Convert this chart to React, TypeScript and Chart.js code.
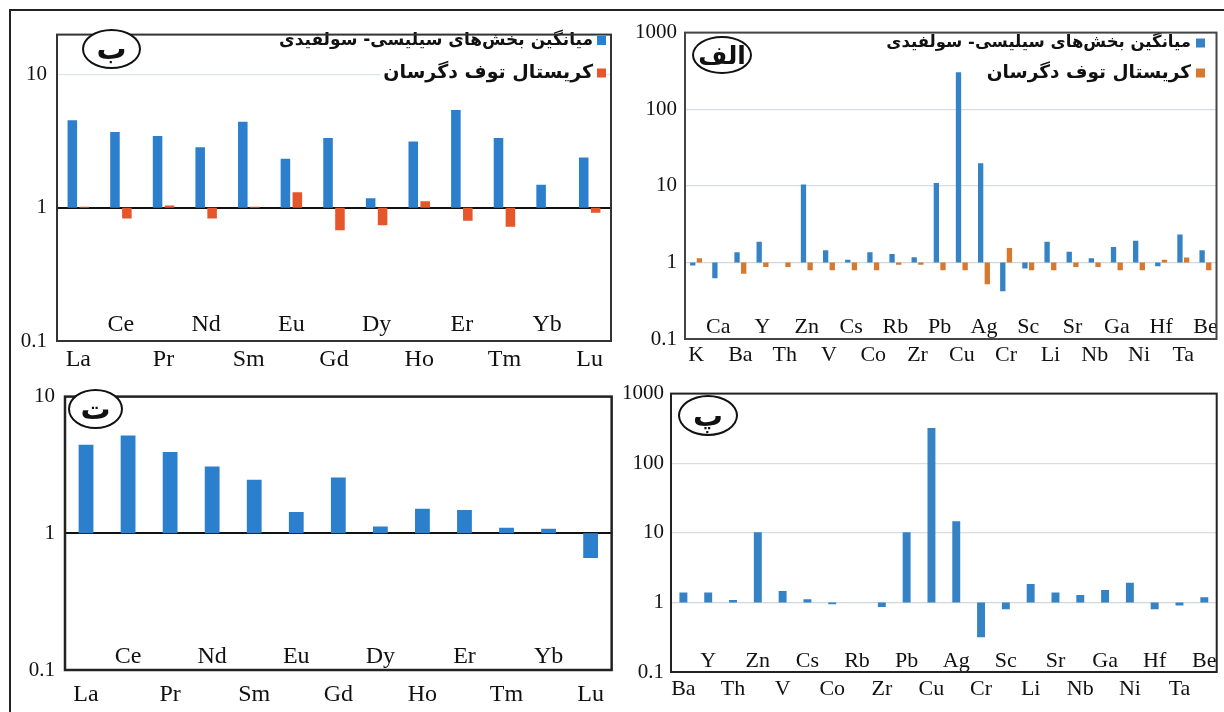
import React, { useEffect, useRef } from 'react';
import { Chart, registerables } from 'chart.js';

Chart.register(...registerables);

const SERIF = "'Liberation Serif', 'Times New Roman', serif";
const PERSIAN = "'DejaVu Sans', 'Noto Sans', sans-serif";

// ---------- data ----------
const seriesNames = ['میانگین بخش\u200cهای سیلیسی- سولفیدی', 'کریستال توف دگرسان'];
const panelTitles = ['الف', 'ب', 'پ', 'ت'];

// Panel ب (REE, two series)
const reeLabels = ['La', 'Ce', 'Pr', 'Nd', 'Sm', 'Eu', 'Gd', 'Dy', 'Ho', 'Er', 'Tm', 'Yb', 'Lu'];
const reeSilicaSulfide = [4.54, 3.71, 3.47, 2.85, 4.44, 2.34, 3.34, 1.18, 3.15, 5.43, 3.34, 1.49, 2.39];
const reeAlteredTuff = [1.02, 0.83, 1.04, 0.83, 1.02, 1.31, 0.68, 0.74, 1.12, 0.8, 0.72, 1.0, 0.92];

// Panel ت (REE ratio)
const reeRatio = [4.44, 5.2, 3.94, 3.08, 2.46, 1.43, 2.56, 1.12, 1.51, 1.48, 1.1, 1.08, 0.66];

// Panel الف (trace elements, two series)
const traceLabelsA = ['K', 'Ca', 'Ba', 'Y', 'Th', 'Zn', 'V', 'Cs', 'Co', 'Rb', 'Zr', 'Pb', 'Cu', 'Ag', 'Cr', 'Sc', 'Li', 'Sr', 'Nb', 'Ga', 'Ni', 'Hf', 'Ta', 'Be'];
const traceSilicaSulfide = [0.91, 0.62, 1.36, 1.86, 1.0, 10.4, 1.44, 1.08, 1.36, 1.29, 1.17, 10.9, 304, 19.7, 0.42, 0.83, 1.86, 1.38, 1.13, 1.59, 1.91, 0.89, 2.31, 1.44];
const traceAlteredTuff = [1.13, 1.0, 0.71, 0.87, 0.87, 0.79, 0.79, 0.79, 0.79, 0.93, 0.93, 0.79, 0.79, 0.52, 1.54, 0.79, 0.79, 0.87, 0.87, 0.79, 0.79, 1.08, 1.16, 0.79];

// Panel پ (trace element ratio)
const traceLabelsP = ['Ba', 'Y', 'Th', 'Zn', 'V', 'Cs', 'Co', 'Rb', 'Zr', 'Pb', 'Cu', 'Ag', 'Cr', 'Sc', 'Li', 'Sr', 'Nb', 'Ga', 'Ni', 'Hf', 'Ta', 'Be'];
const traceRatio = [1.39, 1.39, 1.08, 10.2, 1.46, 1.11, 0.94, 1.0, 0.86, 10.2, 320, 14.6, 0.316, 0.8, 1.84, 1.39, 1.28, 1.51, 1.92, 0.8, 0.9, 1.19];

const yTicksSmall = [0.1, 1, 10];
const yTicksLarge = [0.1, 1, 10, 100, 1000];

// ---------- component ----------
type DS = { label: string; data: number[]; color: string };
type PanelProps = {
  box: { left: number; top: number; width: number; height: number };
  area: { left: number; top: number; right: number; bottom: number };
  labels: string[];
  datasets: DS[];
  yMax: number;
  yTicks: number[];
  xFont: number;
  yFont: number;
  xPadBottom: number;
  xPadInner: number;
  yPad: number;
  categoryPercentage: number;
  barPercentage: number;
  baseLine: string;
  baseWidth: number;
  gridColor: string;
  frameColor: string;
  frameWidth: number;
  legend?: { right: number; ys: number[]; sizes: number[]; box: number; gap: number };
};

function Panel(p: PanelProps) {
  const ref = useRef<HTMLCanvasElement>(null);
  useEffect(() => {
    const canvas = ref.current as HTMLCanvasElement;
    const framePlugin = {
      id: 'frame',
      afterDraw(chart: any) {
        const { ctx, chartArea: a } = chart;
        ctx.save();
        ctx.strokeStyle = p.frameColor;
        ctx.lineWidth = p.frameWidth;
        ctx.strokeRect(a.left, a.top, a.right - a.left, a.bottom - a.top);
        ctx.restore();
      },
    };
    const legendPlugin = {
      id: 'rtlLegend',
      beforeDatasetsDraw(chart: any) {
        const lg = p.legend;
        if (!lg) return;
        const ctx = chart.ctx;
        chart.data.datasets.forEach((ds: any, i: number) => {
          const y = lg.ys[i];
          const size = lg.sizes[i];
          ctx.save();
          ctx.font = `bold ${size}px ${PERSIAN}`;
          ctx.direction = 'rtl';
          ctx.textAlign = 'right';
          ctx.textBaseline = 'middle';
          const textRight = lg.right - lg.box - lg.gap;
          const w = ctx.measureText(ds.label).width;
          ctx.fillStyle = '#ffffff';
          ctx.fillRect(textRight - w - 3, y - size * 0.5, w + 3 + lg.box + lg.gap, size);
          ctx.fillStyle = ds.backgroundColor;
          ctx.fillRect(lg.right - lg.box, y - lg.box / 2, lg.box, lg.box);
          ctx.fillStyle = '#111111';
          ctx.fillText(ds.label, textRight, y);
          ctx.restore();
        });
      },
    };
    const labels = p.labels;
    const chart = new Chart(canvas, {
      type: 'bar',
      data: {
        labels,
        datasets: p.datasets.map((d) => ({
          label: d.label,
          data: d.data.map((v) => [1, v]),
          backgroundColor: d.color,
          borderWidth: 0,
          categoryPercentage: p.categoryPercentage,
          barPercentage: p.barPercentage,
        })),
      },
      options: {
        animation: false,
        responsive: false,
        maintainAspectRatio: false,
        events: [],
        layout: { padding: { top: p.area.top, right: p.box.width - p.area.right, left: 0, bottom: 0 } },
        plugins: { legend: { display: false }, tooltip: { enabled: false } },
        scales: {
          x: {
            type: 'category',
            offset: true,
            grid: { display: false, drawTicks: false },
            border: { display: false },
            ticks: {
              autoSkip: false,
              maxRotation: 0,
              minRotation: 0,
              padding: p.xPadBottom,
              color: '#111111',
              font: { family: SERIF, size: p.xFont },
              callback: (_v: any, i: number) => (i % 2 === 0 ? labels[i] : ''),
            },
            afterFit: (s: any) => {
              s.height = p.box.height - p.area.bottom;
            },
          },
          x2: {
            type: 'category',
            labels,
            position: { y: 0.1 },
            offset: true,
            grid: { display: false, drawTicks: false },
            border: { display: false },
            ticks: {
              autoSkip: false,
              maxRotation: 0,
              minRotation: 0,
              padding: p.xPadInner,
              color: '#111111',
              font: { family: SERIF, size: p.xFont },
              callback: (_v: any, i: number) => (i % 2 === 1 ? labels[i] : ''),
            },
          },
          y: {
            type: 'logarithmic',
            min: 0.1,
            max: p.yMax,
            border: { display: false },
            grid: {
              drawTicks: false,
              color: (c: any) =>
                c.tick && c.tick.value === 1 ? p.baseLine : c.tick && c.tick.value === 0.1 ? 'rgba(0,0,0,0)' : p.gridColor,
              lineWidth: (c: any) => (c.tick && c.tick.value === 1 ? p.baseWidth : 1.2),
            },
            afterBuildTicks: (s: any) => {
              s.ticks = p.yTicks.map((v) => ({ value: v }));
            },
            ticks: {
              padding: p.yPad,
              color: '#111111',
              font: { family: SERIF, size: p.yFont },
              callback: (v: any) => String(v),
            },
            afterFit: (s: any) => {
              s.width = p.area.left;
            },
          },
        },
      } as any,
      plugins: [legendPlugin, framePlugin],
    });
    return () => chart.destroy();
  }, []);
  return (
    <canvas
      ref={ref}
      width={p.box.width}
      height={p.box.height}
      style={{ position: 'absolute', left: p.box.left, top: p.box.top, width: p.box.width, height: p.box.height }}
    />
  );
}

function Badge(props: { text: string; left: number; top: number; w: number; h: number; size: number }) {
  return (
    <div
      style={{
        position: 'absolute',
        left: props.left,
        top: props.top,
        width: props.w,
        height: props.h,
        border: '2px solid #111',
        borderRadius: '50%',
        boxSizing: 'border-box',
        display: 'flex',
        alignItems: 'center',
        justifyContent: 'center',
        font: `bold ${props.size}px ${PERSIAN}`,
        color: '#111',
        direction: 'rtl',
        background: '#fff',
        lineHeight: 1,
      }}
    >
      {props.text}
    </div>
  );
}

export default function App() {
  const blue = '#2b7fcc';
  const blueA = '#3583c4';
  const orangeB = '#e5562a';
  const orangeA = '#d6782e';
  return (
    <div style={{ position: 'fixed', left: 0, top: 0, width: 1224, height: 712, overflow: 'hidden', background: '#fff' }}>
      <div
        style={{
          position: 'absolute',
          left: 9,
          top: 9,
          width: 1220,
          height: 710,
          borderTop: '2px solid #222',
          borderLeft: '2px solid #222',
          boxSizing: 'border-box',
        }}
      />
      {/* ب */}
      <Panel
        box={{ left: 12, top: 12, width: 600, height: 362 }}
        area={{ left: 45, top: 14, right: 599, bottom: 329 }}
        labels={reeLabels}
        datasets={[
          { label: seriesNames[0], data: reeSilicaSulfide, color: blue },
          { label: seriesNames[1], data: reeAlteredTuff, color: orangeB },
        ]}
        yMax={20}
        yTicks={yTicksSmall}
        xFont={24}
        yFont={21}
        xPadBottom={4}
        xPadInner={-31}
        yPad={10}
        categoryPercentage={0.56}
        barPercentage={0.8}
        baseLine="#111111"
        baseWidth={2}
        gridColor="#dfe5ec"
        frameColor="#333333"
        frameWidth={2}
        legend={{ right: 594, ys: [28.5, 61], sizes: [17, 19], box: 9, gap: 4 }}
      />
      {/* الف */}
      <Panel
        box={{ left: 612, top: 12, width: 612, height: 362 }}
        area={{ left: 73, top: 15, right: 604.5, bottom: 327 }}
        labels={traceLabelsA}
        datasets={[
          { label: seriesNames[0], data: traceSilicaSulfide, color: blueA },
          { label: seriesNames[1], data: traceAlteredTuff, color: orangeA },
        ]}
        yMax={1000}
        yTicks={yTicksLarge}
        xFont={22}
        yFont={21}
        xPadBottom={3}
        xPadInner={-25}
        yPad={8}
        categoryPercentage={0.6}
        barPercentage={0.8}
        baseLine="#cfd6de"
        baseWidth={1.2}
        gridColor="#d6dde5"
        frameColor="#444444"
        frameWidth={2}
        legend={{ right: 593, ys: [31, 61], sizes: [16.5, 18.5], box: 9, gap: 5 }}
      />
      {/* ت */}
      <Panel
        box={{ left: 12, top: 374, width: 602, height: 338 }}
        area={{ left: 53, top: 14, right: 600.7, bottom: 296 }}
        labels={reeLabels}
        datasets={[{ label: panelTitles[3], data: reeRatio, color: blue }]}
        yMax={10}
        yTicks={yTicksSmall}
        xFont={24}
        yFont={21}
        xPadBottom={10}
        xPadInner={-28}
        yPad={10}
        categoryPercentage={0.8}
        barPercentage={0.44}
        baseLine="#111111"
        baseWidth={2}
        gridColor="#dfe5ec"
        frameColor="#222222"
        frameWidth={2.5}
      />
      {/* پ */}
      <Panel
        box={{ left: 614, top: 374, width: 610, height: 338 }}
        area={{ left: 57, top: 16, right: 602.7, bottom: 298 }}
        labels={traceLabelsP}
        datasets={[{ label: panelTitles[2], data: traceRatio, color: blueA }]}
        yMax={1000}
        yTicks={yTicksLarge}
        xFont={22}
        yFont={21}
        xPadBottom={4}
        xPadInner={-24}
        yPad={7}
        categoryPercentage={0.8}
        barPercentage={0.4}
        baseLine="#cfd6de"
        baseWidth={1.2}
        gridColor="#d6dde5"
        frameColor="#222222"
        frameWidth={2}
      />
      <Badge text={panelTitles[1]} left={82} top={29} w={59} h={40} size={30} />
      <Badge text={panelTitles[0]} left={692} top={36} w={60} h={38} size={25} />
      <Badge text={panelTitles[3]} left={68} top={389} w={55} h={40} size={30} />
      <Badge text={panelTitles[2]} left={678} top={395} w={60} h={41} size={30} />
    </div>
  );
}
